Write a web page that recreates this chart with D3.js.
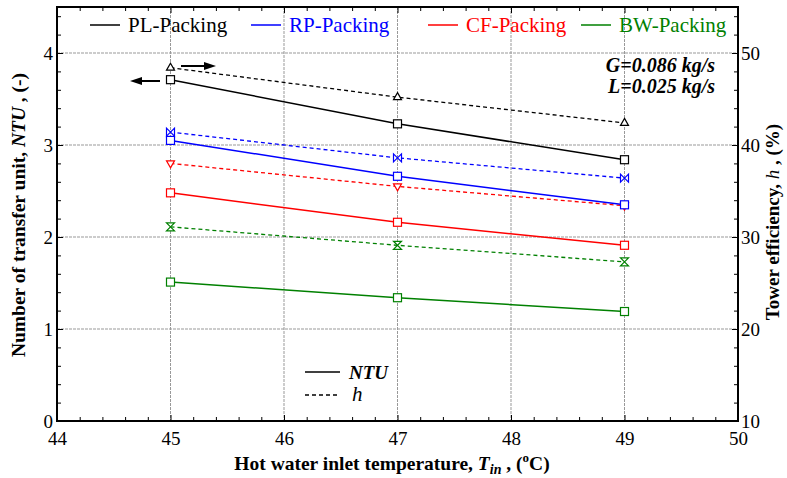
<!DOCTYPE html>
<html>
<head>
<meta charset="UTF-8">
<style>
  body { margin: 0; background: #fff; }
  text { font-family: "Liberation Serif", "Times New Roman", serif; }
</style>
</head>
<body>
<div id="chart"></div>
<script src="https://d3js.org/d3.v7.min.js"></script>
<script>
// data
const temps = [45, 47, 49];
const ntuPL = [3.71, 3.23, 2.84];
const ntuRP = [3.05, 2.66, 2.35];
const ntuCF = [2.48, 2.16, 1.91];
const ntuBW = [1.51, 1.34, 1.19];
const effPL = [48.4, 45.2, 42.4];
const effRP = [41.4, 38.6, 36.4];
const effCF = [38.0, 35.5, 33.4];
const effBW = [31.1, 29.1, 27.3];
const xTicks = [44, 45, 46, 47, 48, 49, 50];
const yTicks = [0, 1, 2, 3, 4];
const y2Ticks = [10, 20, 30, 40, 50];
const packNames = ["PL-Packing", "RP-Packing", "CF-Packing", "BW-Packing"];
const packColors = ["#000000", "#0000ff", "#ff0000", "#008000"];

const W = 787, H = 478;
const margin = { top: 7, right: 49, bottom: 57, left: 57 };
const width = W - margin.left - margin.right,
      height = H - margin.top - margin.bottom;

const svg = d3.select("#chart").append("svg")
    .attr("width", W).attr("height", H);
const g = svg.append("g")
    .attr("transform", "translate(" + margin.left + "," + margin.top + ")");

const x = d3.scaleLinear().domain([44, 50]).range([0, width]);
const y = d3.scaleLinear().domain([0, 4.5]).range([height, 0]);
const y2 = d3.scaleLinear().domain([10, 55]).range([height, 0]);

// grid
g.append("g").selectAll("line").data(xTicks.slice(1, -1)).enter().append("line")
    .attr("x1", d => x(d)).attr("x2", d => x(d)).attr("y1", 0).attr("y2", height)
    .attr("stroke", "#999").attr("stroke-dasharray", "3,1");
g.append("g").selectAll("line").data(yTicks.slice(1)).enter().append("line")
    .attr("y1", d => y(d)).attr("y2", d => y(d)).attr("x1", 0).attr("x2", width)
    .attr("stroke", "#999").attr("stroke-dasharray", "3,1");

// minor tick values
const xMinor = d3.range(44, 50.01, 0.2).filter(v => Math.abs(v - Math.round(v)) > 0.01);
const yMinor = d3.range(0, 4.51, 0.2).filter(v => Math.abs(v - Math.round(v)) > 0.01);
const y2Minor = d3.range(10, 55.1, 2).filter(v => v % 10 != 0);

function styleAxis(sel) {
    sel.attr("font-family", "Liberation Serif").attr("font-size", 19);
    sel.select(".domain").remove();
    sel.selectAll("line").attr("stroke", "#000");
    sel.selectAll("text").attr("fill", "#000")
        .style("font-family", "'Liberation Serif', serif");
}

// bottom
g.append("g").attr("transform", "translate(0," + height + ")")
    .call(d3.axisBottom(x).tickValues(xTicks).tickFormat(d3.format("d")).tickSizeInner(-6).tickSizeOuter(0).tickPadding(11))
    .call(styleAxis);
g.append("g").attr("transform", "translate(0," + height + ")")
    .call(d3.axisBottom(x).tickValues(xMinor).tickFormat("").tickSizeInner(-4).tickSizeOuter(0))
    .call(styleAxis);
// top
g.append("g")
    .call(d3.axisTop(x).tickValues(xTicks).tickFormat("").tickSizeInner(-6).tickSizeOuter(0))
    .call(styleAxis);
g.append("g")
    .call(d3.axisTop(x).tickValues(xMinor).tickFormat("").tickSizeInner(-4).tickSizeOuter(0))
    .call(styleAxis);
// left
g.append("g")
    .call(d3.axisLeft(y).tickValues(yTicks).tickFormat(d3.format("d")).tickSizeInner(-6).tickSizeOuter(0).tickPadding(4))
    .call(styleAxis);
g.append("g")
    .call(d3.axisLeft(y).tickValues(yMinor).tickFormat("").tickSizeInner(-4).tickSizeOuter(0))
    .call(styleAxis);
// right
g.append("g").attr("transform", "translate(" + width + ",0)")
    .call(d3.axisRight(y2).tickValues(y2Ticks).tickFormat(d3.format("d")).tickSizeInner(-6).tickSizeOuter(0).tickPadding(3))
    .call(styleAxis);
g.append("g").attr("transform", "translate(" + width + ",0)")
    .call(d3.axisRight(y2).tickValues(y2Minor).tickFormat("").tickSizeInner(-4).tickSizeOuter(0))
    .call(styleAxis);

// frame
g.append("rect").attr("width", width).attr("height", height)
    .attr("fill", "none").attr("stroke", "#000").attr("stroke-width", 2);

// series
const ntuSets = [ntuPL, ntuRP, ntuCF, ntuBW];
const effSets = [effPL, effRP, effCF, effBW];
const effMarkers = [
    "M0,-4.5L4,2.5L-4,2.5Z",             // up triangle
    "M-4,-4L-4,4L4,-4L4,4Z",             // bowtie
    "M0,4.5L4,-2.5L-4,-2.5Z",            // down triangle
    "M-4,-4L4,-4L-4,4L4,4Z"              // hourglass
];

const lineNtu = d3.line().x((d, i) => x(temps[i])).y(d => y(d));
const lineEff = d3.line().x((d, i) => x(temps[i])).y(d => y2(d));

effSets.forEach((vals, k) => {
    g.append("path").datum(vals).attr("d", lineEff)
        .attr("fill", "none").attr("stroke", packColors[k])
        .attr("stroke-width", 1.3).attr("stroke-dasharray", "4,3");
});
ntuSets.forEach((vals, k) => {
    g.append("path").datum(vals).attr("d", lineNtu)
        .attr("fill", "none").attr("stroke", packColors[k]).attr("stroke-width", 1.5);
});
effSets.forEach((vals, k) => {
    g.append("g").selectAll("path").data(vals).enter().append("path")
        .attr("d", effMarkers[k])
        .attr("transform", (d, i) => "translate(" + x(temps[i]) + "," + y2(d) + ")")
        .attr("fill", "#fff").attr("stroke", packColors[k]).attr("stroke-width", 1.2);
});
ntuSets.forEach((vals, k) => {
    g.append("g").selectAll("rect").data(vals).enter().append("rect")
        .attr("x", (d, i) => x(temps[i]) - 4).attr("y", d => y(d) - 4)
        .attr("width", 8).attr("height", 8)
        .attr("fill", "#fff").attr("stroke", packColors[k]).attr("stroke-width", 1.2);
});

// top legend
const legX = [90, 251, 428, 581];
packNames.forEach((name, k) => {
    svg.append("line").attr("x1", legX[k]).attr("x2", legX[k] + 30)
        .attr("y1", 25).attr("y2", 25).attr("stroke", packColors[k]).attr("stroke-width", 1.5);
    svg.append("text").attr("x", legX[k] + 38).attr("y", 32)
        .attr("font-size", 21).attr("fill", packColors[k]).text(name);
});

// flow rate note
const note = svg.append("g").attr("font-size", 20).attr("font-weight", "bold")
    .attr("font-style", "italic").attr("text-anchor", "end");
note.append("text").attr("x", 715).attr("y", 72).text("G=0.086 kg/s");
note.append("text").attr("x", 715).attr("y", 93).text("L=0.025 kg/s");

// arrows
svg.append("line").attr("x1", 160).attr("x2", 140).attr("y1", 81).attr("y2", 81)
    .attr("stroke", "#000").attr("stroke-width", 2);
svg.append("path").attr("d", "M130,81L142,77L142,85Z").attr("fill", "#000");
svg.append("line").attr("x1", 181).attr("x2", 206).attr("y1", 66).attr("y2", 66)
    .attr("stroke", "#000").attr("stroke-width", 2);
svg.append("path").attr("d", "M216,66L204,62L204,70Z").attr("fill", "#000");

// line style legend
svg.append("line").attr("x1", 305).attr("x2", 340).attr("y1", 372).attr("y2", 372)
    .attr("stroke", "#000").attr("stroke-width", 1.5);
svg.append("line").attr("x1", 305).attr("x2", 340).attr("y1", 395).attr("y2", 395)
    .attr("stroke", "#000").attr("stroke-width", 1.3).attr("stroke-dasharray", "4,3");
svg.append("text").attr("x", 349).attr("y", 379).attr("font-size", 19)
    .attr("font-weight", "bold").attr("font-style", "italic").text("NTU");
svg.append("text").attr("x", 352).attr("y", 401).attr("font-size", 21)
    .attr("font-style", "italic").text("h");

// axis titles
const xt = svg.append("text").attr("x", 392).attr("y", 470).attr("text-anchor", "middle")
    .attr("font-size", 19.5).attr("font-weight", "bold");
xt.append("tspan").text("Hot water inlet temperature, ");
xt.append("tspan").attr("font-style", "italic").text("T");
xt.append("tspan").attr("font-style", "italic").attr("font-size", 14).attr("dy", 4).text("in");
xt.append("tspan").attr("dy", -4).text(" , (");
xt.append("tspan").attr("font-size", 13).attr("dy", -8).text("o");
xt.append("tspan").attr("dy", 8).text("C)");

const yt = svg.append("text").attr("transform", "translate(25,215) rotate(-90)")
    .attr("text-anchor", "middle").attr("font-size", 19.5).attr("font-weight", "bold");
yt.append("tspan").text("Number of transfer unit, ");
yt.append("tspan").attr("font-style", "italic").text("NTU");
yt.append("tspan").text(" , (-)");

const y2t = svg.append("text").attr("transform", "translate(779,222) rotate(-90)")
    .attr("text-anchor", "middle").attr("font-size", 19).attr("font-weight", "bold");
y2t.append("tspan").text("Tower efficiency, ");
y2t.append("tspan").attr("font-style", "italic").attr("font-weight", "normal").text("h");
y2t.append("tspan").text(" , (%)");
</script>
</body>
</html>
